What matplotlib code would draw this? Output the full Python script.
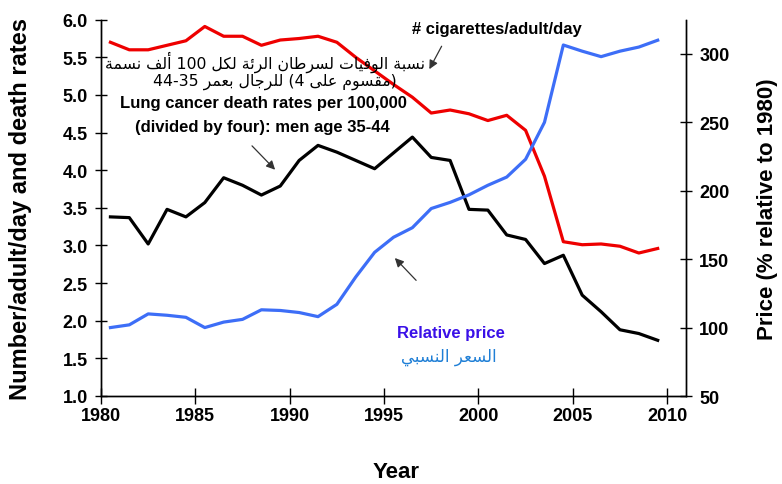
import re
import numpy as np
import matplotlib
matplotlib.use("Agg")
import matplotlib.pyplot as plt

plt.rcParams['font.family'] = ['Liberation Sans', 'DejaVu Sans']
plt.rcParams['font.weight'] = 'bold'

years = np.arange(1980, 2010)

# cigarettes per adult per day
cigarettes = [5.70, 5.60, 5.60, 5.66, 5.72, 5.91, 5.78, 5.78, 5.66, 5.73,
              5.75, 5.78, 5.70, 5.50, 5.32, 5.14, 4.97, 4.76, 4.80, 4.75,
              4.66, 4.73, 4.53, 3.92, 3.05, 3.01, 3.02, 2.99, 2.90, 2.96]

# lung cancer deaths per 100,000 men aged 35-44, divided by four
lung_cancer = [3.38, 3.37, 3.02, 3.48, 3.38, 3.57, 3.90, 3.80, 3.67, 3.79,
               4.13, 4.33, 4.24, 4.13, 4.02, 4.23, 4.44, 4.17, 4.13, 3.48,
               3.47, 3.14, 3.08, 2.76, 2.87, 2.34, 2.12, 1.88, 1.83, 1.74]

# cigarette price, % of 1980
price = [100, 102, 110, 109, 107.5, 100, 104, 106, 113, 112.5,
         111, 108, 117, 137, 155, 166, 173, 187, 191.5, 197,
         204, 210, 223, 250, 306.5, 302, 298, 302, 305, 310]

left_ticks = [1.0, 1.5, 2.0, 2.5, 3.0, 3.5, 4.0, 4.5, 5.0, 5.5, 6.0]
right_ticks = [50, 100, 150, 200, 250, 300]
year_ticks = [1980, 1985, 1990, 1995, 2000, 2005, 2010]

AR_FORMS = {
    'ا': (0xFE8D, 2), 'أ': (0xFE83, 2), 'ب': (0xFE8F, 4), 'ة': (0xFE93, 2),
    'ت': (0xFE95, 4), 'ج': (0xFE9D, 4), 'ر': (0xFEAD, 2), 'س': (0xFEB1, 4),
    'ط': (0xFEC1, 4), 'ع': (0xFEC9, 4), 'ف': (0xFED1, 4), 'ق': (0xFED5, 4),
    'ك': (0xFED9, 4), 'ل': (0xFEDD, 4), 'م': (0xFEE1, 4), 'ن': (0xFEE5, 4),
    'و': (0xFEED, 2), 'ى': (0xFEEF, 2), 'ي': (0xFEF1, 4), 'ئ': (0xFE89, 4),
}


def shape_ar(text):
    # pick joined letter forms, then lay the string out right to left
    out = []
    for i, ch in enumerate(text):
        if ch not in AR_FORMS:
            out.append(ch)
            continue
        base, n = AR_FORMS[ch]
        prev = text[i - 1] if i > 0 else ''
        nxt = text[i + 1] if i + 1 < len(text) else ''
        join_prev = prev in AR_FORMS and AR_FORMS[prev][1] == 4
        join_next = n == 4 and nxt in AR_FORMS
        if join_prev and join_next:
            off = 3
        elif join_prev:
            off = 1
        elif join_next:
            off = 2
        else:
            off = 0
        out.append(chr(base + off))
    runs = re.findall(r'\d+|\D', ''.join(out))
    mirror = {'(': ')', ')': '('}
    return ''.join(mirror.get(r, r) for r in reversed(runs))


fig = plt.figure(figsize=(7.82, 4.85), dpi=100)
ax = fig.add_axes([101 / 782, 1 - 397 / 485, 585 / 782, 376.3 / 485])
ax2 = ax.twinx()

x = years + 0.5
ax.plot(x, cigarettes, color='#ee0000', lw=2.3, solid_joinstyle='round')
ax.plot(x, lung_cancer, color='black', lw=2.3, solid_joinstyle='round')
ax2.plot(x, price, color='#3d6ef7', lw=2.3, solid_joinstyle='round')

ax.set_xlim(1980, 2011)
ax.set_ylim(1.0, 6.0)
ax2.set_ylim(50, 325)
ax.set_xticks(year_ticks)
ax.set_yticks(left_ticks)
ax.set_yticklabels([f'{v:.1f}' for v in left_ticks])
ax2.set_yticks(right_ticks)

for a in (ax, ax2):
    a.spines['top'].set_visible(False)
    for s in a.spines.values():
        s.set_linewidth(1.0)
    a.tick_params(direction='inout', length=9, width=1.0, labelsize=13, pad=5)
ax.tick_params(axis='x', length=12, pad=2)

ax.set_xlabel('Year', fontsize=16, fontweight='bold')
ax.xaxis.set_label_coords(0.504, -0.172)
ax.set_ylabel('Number/adult/day and death rates', fontsize=17, fontweight='bold')
ax.yaxis.set_label_coords(-0.118, 0.5)
ax2.set_ylabel('Price (% relative to 1980)', fontsize=16, fontweight='bold')
ax2.yaxis.set_label_coords(1.122, 0.5)

arrow = dict(arrowstyle='-|>', color='#333333', lw=0.9, mutation_scale=13)

ax.text(2001.0, 5.88, '# cigarettes/adult/day', fontsize=12, fontweight='bold',
        ha='center', va='center')
ax.annotate('', xy=(1997.33, 5.31), xytext=(1998.12, 5.68), arrowprops=arrow)

ax.text(1988.7, 5.45, shape_ar('نسبة الوفيات لسرطان الرئة لكل 100 ألف نسمة'),
        family=['DejaVu Sans'], fontweight='normal', fontsize=11.3, ha='center', va='center')
ax.text(1989.2, 5.19, shape_ar('(مقسوم على 4) للرجال بعمر 35-44'),
        family=['DejaVu Sans'], fontweight='normal', fontsize=11.3, ha='center', va='center')
ax.text(1988.6, 4.90, 'Lung cancer death rates per 100,000', fontsize=12,
        fontweight='bold', ha='center', va='center')
ax.text(1988.55, 4.58, '(divided by four): men age 35-44', fontsize=12,
        fontweight='bold', ha='center', va='center')
ax.annotate('', xy=(1989.33, 3.98), xytext=(1987.9, 4.35), arrowprops=arrow)

ax.text(1998.55, 1.85, 'Relative price', fontsize=12, fontweight='bold',
        color='#3a10e8', ha='center', va='center')
ax.text(1998.45, 1.53, shape_ar('السعر النسبي'), family=['DejaVu Sans'],
        fontweight='normal', fontsize=12, color='#1f7fd6', ha='center', va='center')
ax.annotate('', xy=(1995.47, 2.86), xytext=(1996.8, 2.51), arrowprops=arrow)

fig.savefig('out.png', dpi=100)
